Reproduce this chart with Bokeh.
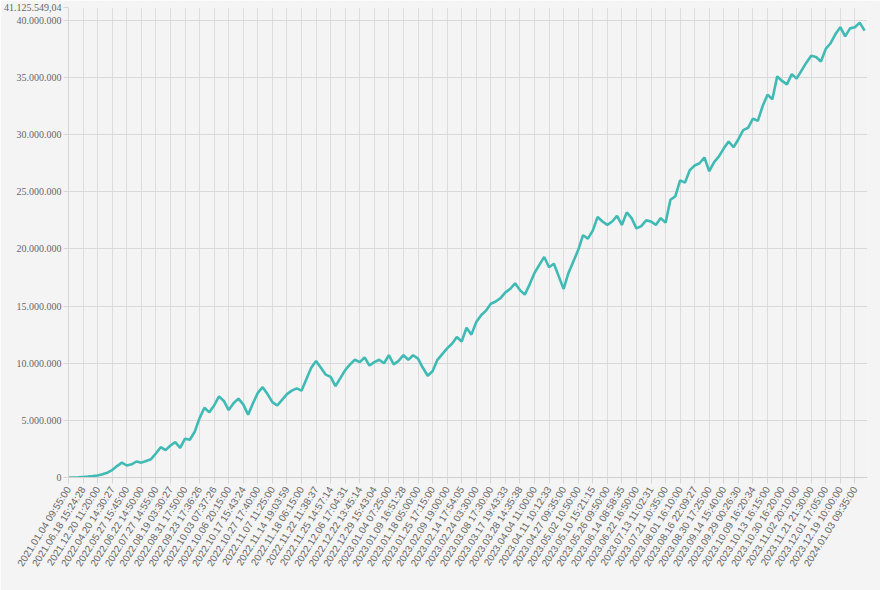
import math
from bokeh.plotting import figure
from bokeh.models import FixedTicker, CustomJSTickFormatter, Range1d, ColumnDataSource
from bokeh.embed import file_html
from bokeh.resources import INLINE

# ---- data -------------------------------------------------------------
tick_labels = [
    "2021.01.04 09:55:00", "2021.06.18 15:24:28", "2021.12.20 11:20:00",
    "2022.04.20 14:30:27", "2022.05.27 15:45:00", "2022.06.22 14:50:00",
    "2022.07.27 14:55:00", "2022.08.19 03:30:27", "2022.08.31 17:50:00",
    "2022.09.23 17:36:26", "2022.10.03 07:37:26", "2022.10.06 20:15:00",
    "2022.10.17 15:43:24", "2022.10.27 17:40:00", "2022.11.07 11:25:00",
    "2022.11.14 19:03:59", "2022.11.18 06:15:00", "2022.11.22 11:38:37",
    "2022.11.25 14:57:14", "2022.12.06 17:04:31", "2022.12.22 13:45:14",
    "2022.12.29 15:43:04", "2023.01.04 07:25:00", "2023.01.09 16:51:28",
    "2023.01.18 05:00:00", "2023.01.25 17:15:00", "2023.02.09 19:00:00",
    "2023.02.14 17:54:05", "2023.02.24 03:30:00", "2023.03.08 17:30:00",
    "2023.03.17 19:43:33", "2023.03.28 14:35:38", "2023.04.04 11:00:00",
    "2023.04.11 10:12:33", "2023.04.27 09:35:00", "2023.05.02 10:50:00",
    "2023.05.10 15:21:15", "2023.05.26 09:50:00", "2023.06.14 08:58:35",
    "2023.06.22 16:50:00", "2023.07.13 11:02:31", "2023.07.21 10:35:00",
    "2023.08.01 16:10:00", "2023.08.16 22:09:27", "2023.08.30 17:25:00",
    "2023.09.14 15:40:00", "2023.09.29 00:26:30", "2023.10.09 16:20:34",
    "2023.10.13 16:15:00", "2023.10.30 16:20:00", "2023.11.02 20:10:00",
    "2023.11.21 21:30:00", "2023.12.01 17:05:00", "2023.12.19 10:00:00",
    "2024.01.03 09:35:00",
]
points_per_tick = 3

# equity values in millions, one per sample
equity_millions = [
    0.0, 0.0, 0.02, 0.05, 0.08, 0.12, 0.17, 0.28, 0.42, 0.65,
    1.0, 1.3, 1.05, 1.15, 1.4, 1.3, 1.45, 1.6, 2.1, 2.65,
    2.4, 2.8, 3.1, 2.6, 3.4, 3.3, 4.0, 5.2, 6.1, 5.7,
    6.3, 7.1, 6.7, 5.9, 6.5, 6.9, 6.4, 5.5, 6.5, 7.4,
    7.9, 7.3, 6.6, 6.3, 6.8, 7.3, 7.6, 7.8, 7.6, 8.6,
    9.6, 10.2, 9.6, 9.0, 8.8, 8.0, 8.7, 9.4, 9.9, 10.3,
    10.1, 10.5, 9.8, 10.1, 10.3, 10.0, 10.7, 9.9, 10.2, 10.7,
    10.3, 10.7, 10.4, 9.6, 8.9, 9.3, 10.3, 10.8, 11.3, 11.7,
    12.3, 11.9, 13.1, 12.5, 13.6, 14.2, 14.6, 15.2, 15.4, 15.7,
    16.2, 16.5, 17.0, 16.4, 16.0, 16.9, 17.9, 18.6, 19.3, 18.4,
    18.7, 17.6, 16.5, 17.9, 18.9, 19.9, 21.2, 20.9, 21.6, 22.8,
    22.4, 22.1, 22.4, 22.9, 22.1, 23.2, 22.7, 21.8, 22.0, 22.5,
    22.4, 22.1, 22.7, 22.3, 24.3, 24.6, 26.0, 25.8, 26.9, 27.3,
    27.5, 28.0, 26.8, 27.6, 28.1, 28.8, 29.4, 28.9, 29.6, 30.4,
    30.6, 31.4, 31.2, 32.5, 33.5, 33.1, 35.1, 34.7, 34.4, 35.3,
    34.9, 35.6, 36.3, 36.9, 36.8, 36.4, 37.5, 38.0, 38.8, 39.4,
    38.6, 39.3, 39.4, 39.8, 39.1,
]
y_max = 41125549.04
y_ticks = [0, 5e6, 10e6, 15e6, 20e6, 25e6, 30e6, 35e6, 40e6, y_max]

# ---- build ------------------------------------------------------------
source = ColumnDataSource(dict(
    x=list(range(len(equity_millions))),
    y=[v * 1e6 for v in equity_millions],
))

bg = "#f4f4f4"
p = figure(
    width=880, height=590,
    output_backend="svg", toolbar_location=None,
    x_range=Range1d(0, 164.6), y_range=Range1d(0, y_max),
    min_border_left=63, min_border_right=13, min_border_top=7, min_border_bottom=113,
    background_fill_color=bg, border_fill_color=bg,
    outline_line_color=None,
)

p.line("x", "y", source=source, line_color="#3fbab4", line_width=2.6)

# x axis
p.xaxis.ticker = FixedTicker(ticks=[i * points_per_tick for i in range(len(tick_labels))])
p.xaxis.formatter = CustomJSTickFormatter(
    args=dict(labels=tick_labels, step=points_per_tick),
    code="const i = Math.round(tick / step); return (i >= 0 && i < labels.length) ? labels[i] : '';",
)
p.xaxis.major_label_orientation = math.radians(58)
p.xaxis.major_label_text_font = "Liberation Sans"
p.xaxis.major_label_text_font_size = "10px"
p.xaxis.major_label_text_color = "#666666"
p.xaxis.major_label_standoff = 4
p.xaxis.axis_line_color = "#cfcfcf"
p.xaxis.major_tick_line_color = "#d6d6d6"
p.xaxis.major_tick_out = 6
p.xaxis.major_tick_in = 0
p.xaxis.minor_tick_line_color = None

# y axis
p.yaxis.ticker = FixedTicker(ticks=y_ticks)
p.yaxis.formatter = CustomJSTickFormatter(code=r"""
const r = Math.round(Math.abs(tick) * 100) / 100;
const parts = r.toFixed(2).split(".");
const ip = parts[0].replace(/\B(?=(\d{3})+(?!\d))/g, ".");
return parts[1] === "00" ? ip : ip + "," + parts[1];
""")
p.yaxis.major_label_text_font = "Liberation Sans Narrow"
p.yaxis.major_label_text_font_size = "10px"
p.yaxis.major_label_text_color = "#666666"
p.yaxis.major_label_standoff = 2
p.yaxis.axis_line_color = "#d6d6d6"
p.yaxis.major_tick_line_color = "#d6d6d6"
p.yaxis.major_tick_out = 5
p.yaxis.major_tick_in = 0
p.yaxis.minor_tick_line_color = None

p.xgrid.grid_line_color = "#dcdcdc"
p.ygrid.grid_line_color = "#d9d9d9"

open("out.html", "w").write(file_html(p, INLINE))
